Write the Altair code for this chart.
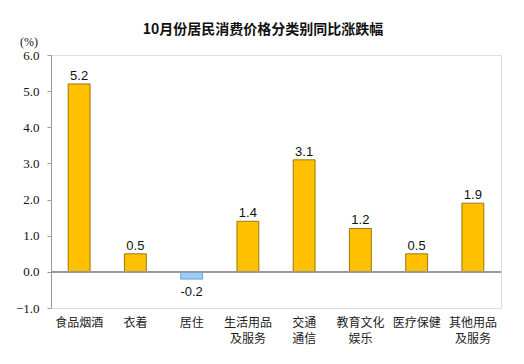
import altair as alt
import pandas as pd

categories = ["食品烟酒", "衣着", "居住", "生活用品\n及服务", "交通\n通信", "教育文化\n娱乐", "医疗保健", "其他用品\n及服务"]
values = [5.2, 0.5, -0.2, 1.4, 3.1, 1.2, 0.5, 1.9]
y_ticks = [-1, 0, 1, 2, 3, 4, 5, 6]

SERIF = "'Liberation Serif', 'DejaVu Serif', serif"

df = pd.DataFrame({"cat": categories, "val": values})
df["label"] = df["val"].map(lambda v: f"{v:.1f}")
df["neg"] = df["val"] < 0

x = alt.X("cat:N", sort=categories, title=None,
          scale=alt.Scale(paddingInner=0.61, paddingOuter=0.305),
          axis=alt.Axis(labelAngle=0, labelExpr="split(datum.label, '\\n')",
                        domain=False, ticks=False, labelPadding=9,
                        labelFont="Noto Sans CJK SC", labelFontSize=12,
                        labelColor="#222222", labelLineHeight=16))
y_scale = alt.Scale(domain=[-1, 6], nice=False, zero=False)
y_axis = alt.Axis(values=y_ticks, format=".1f", grid=False, labelOverlap=False,
                  domainColor="#999999", tickColor="#999999", tickSize=4,
                  labelPadding=8, labelFont=SERIF, labelFontSize=13,
                  labelColor="#111111")
y = alt.Y("val:Q", title=None, scale=y_scale, axis=y_axis)

bars = alt.Chart(df).mark_bar(strokeWidth=0.8).encode(
    x=x, y=y, y2=alt.datum(0),
    color=alt.condition("datum.neg", alt.value("#99CCFF"), alt.value("#FFC000")),
    stroke=alt.condition("datum.neg", alt.value("#5B8FD0"), alt.value("#7F6000")),
)

zero = alt.Chart(df).mark_rule(color="#999999", strokeWidth=1).encode(
    y=alt.YDatum(0, title=None, scale=y_scale, axis=y_axis))

labels_pos = alt.Chart(df).transform_filter("datum.val >= 0").mark_text(
    dy=-8, font="Liberation Sans", fontSize=13, color="#111111"
).encode(x=x, y=y, text="label:N")

labels_neg = alt.Chart(df).transform_filter("datum.val < 0").mark_text(
    dy=13, font="Liberation Sans", fontSize=13, color="#111111"
).encode(x=x, y=y, text="label:N")

unit = alt.Chart(pd.DataFrame({"t": ["(%)"]})).mark_text(
    font=SERIF, fontSize=12, color="#111111", align="center"
).encode(x=alt.value(-22), y=alt.value(-13), text="t:N")

chart = alt.layer(bars, zero, labels_pos, labels_neg, unit).properties(
    width=450, height=253,
    autosize=alt.AutoSizeParams(type="none"),
    padding={"left": 43, "top": 47, "right": 15, "bottom": 48},
    title=alt.TitleParams("10月份居民消费价格分类别同比涨跌幅", font="Noto Sans CJK SC",
                          fontSize=14, fontWeight="bold", color="#111111",
                          offset=-1, dx=-13, anchor="middle"),
).configure_view(stroke="#999999", strokeWidth=1).configure_axisY(
    labelOverlap=False, labelFont=SERIF, labelFontSize=13,
    labelColor="#111111", domainColor="#999999", tickColor="#999999", grid=False
).configure(background="white")

chart.save("out.html", embed_options={"renderer": "svg", "actions": False})
